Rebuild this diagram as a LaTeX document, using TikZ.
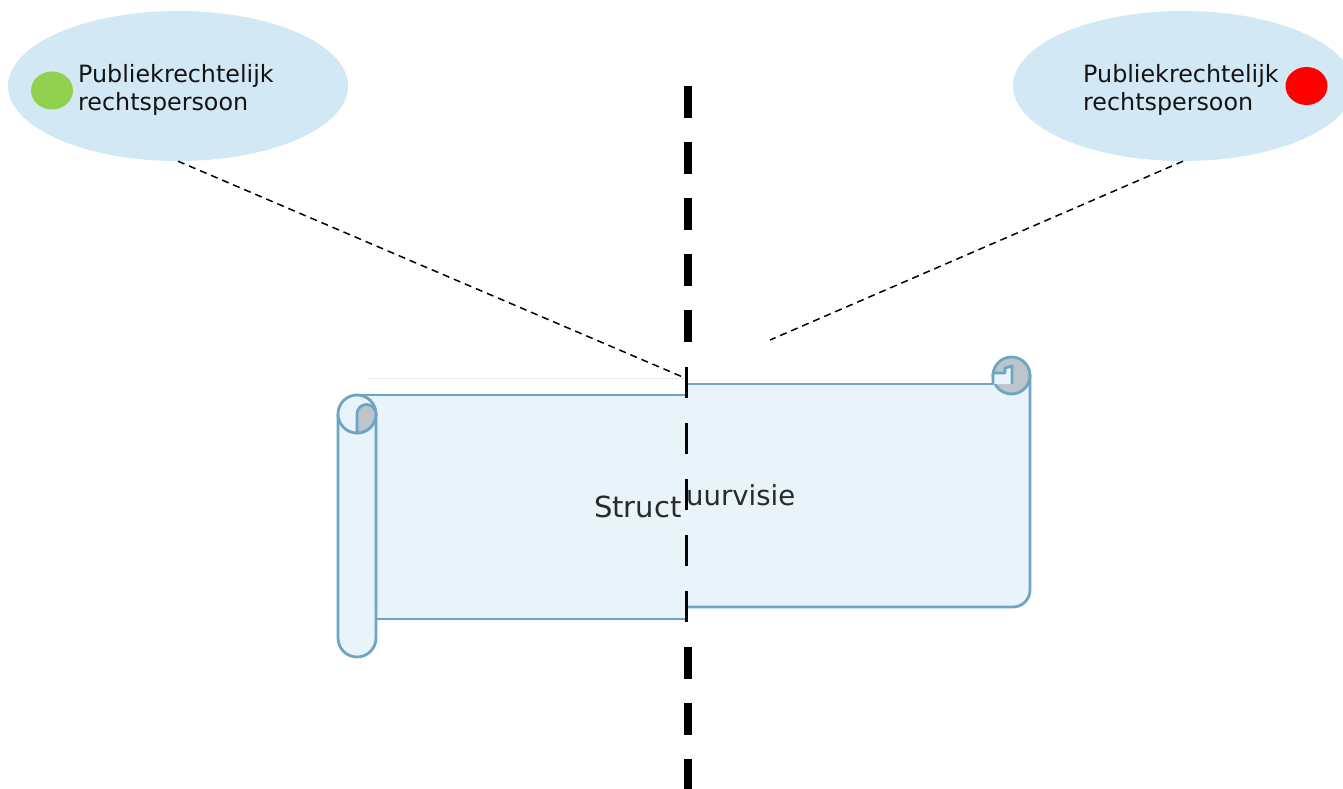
\documentclass[tikz,border=0pt]{standalone}
\usepackage{fontspec}
\setmainfont{DejaVu Sans}
\usetikzlibrary{shapes.geometric}
\definecolor{ellfill}{HTML}{D2E8F4}
\definecolor{scrollfill}{HTML}{E8F3FA}
\definecolor{scrolledge}{HTML}{6FA5C3}
\definecolor{curlgray}{HTML}{BCC5CC}
\definecolor{dotgreen}{HTML}{92D050}
\definecolor{faintline}{HTML}{E3EBF0}
\definecolor{scrolltext}{HTML}{2A2A2A}
\begin{document}
\begin{tikzpicture}[x=1pt,y=-1pt,
  bubble/.style={ellipse, fill=ellfill, minimum width=340pt, minimum height=150pt, inner sep=0pt},
  dot/.style={ellipse, minimum width=42pt, minimum height=38pt, inner sep=0pt},
  bubbletext/.style={align=left, anchor=north west, font=\fontsize{23.8}{28}\selectfont, inner sep=0pt, text=black!92},
  scrolltxt/.style={anchor=base west, inner sep=0pt, text=scrolltext},
  link/.style={draw=black, line width=1.5pt, dash pattern=on 7pt off 5pt},
  scrollline/.style={draw=scrolledge, line width=2.8pt, line join=round},
  thickdiv/.style={draw=black, line width=8pt, dash pattern=on 32pt off 24pt},
  thindiv/.style={draw=black, line width=3pt, dash pattern=on 31pt off 25pt}]
\useasboundingbox (0,0) rectangle (1343,789);
\clip (0,0) rectangle (1343,789);

% bubbles
\node[bubble] (bl) at (178,86) {};
\node[bubble] (br) at (1183,86) {};
\node[dot, fill=dotgreen] (gdot) at (52,90.5) {};
\node[dot, fill=red] (rdot) at (1306.5,86) {};
\node[bubbletext] (tl) at (78,64) {Publiekrechtelijk\\rechtspersoon};
\node[bubbletext] (tr) at (1083,64) {Publiekrechtelijk\\rechtspersoon};

% connectors
\coordinate (cl) at (685,378);
\coordinate (cr) at (770,340);
\draw[link] (bl.south) -- (cl);
\draw[link] (br.south) -- (cr);

% faint line
\draw[faintline, line width=1pt] (368,378) -- (686,378);

% left half of scroll
\fill[scrollfill] (357,395) rectangle (686,619);
\draw[scrollline] (357,395) -- (686,395);
\draw[scrollline] (377,619) -- (686,619);
\path[scrollline, fill=scrollfill] (338,414) -- (338,638) arc[start angle=180, end angle=0, radius=19] -- (376,414);
\path[scrollline, fill=scrollfill] (357,414) circle[radius=19];
\path[scrollline, fill=curlgray] (357,414) arc[start angle=180, end angle=360, radius=9.5] arc[start angle=0, end angle=90, radius=19] -- cycle;

% right half of scroll
\fill[scrollfill] (686,384) -- (1030,384) -- (1030,590) arc[start angle=0, end angle=90, radius=17] -- (686,607) -- cycle;
\draw[scrollline] (686,384) -- (1012,384);
\path[scrollline, fill=curlgray] (1011.5,375.5) circle[radius=18.5];
\path[scrollline, fill=scrollfill] (993,384) -- (993,373) -- (1005,373) -- (1005,368) -- (1012,366) -- (1012,384);
\draw[scrollline] (1030,375) -- (1030,590) arc[start angle=0, end angle=90, radius=17] -- (686,607);

% scroll text
\node[scrolltxt, font=\fontsize{29}{34}\selectfont] (s1) at (594,517) {Struct};
\node[scrolltxt, font=\fontsize{27.5}{33}\selectfont] (s2) at (686,505) {uurvisie};

% divider
\coordinate (d1) at (688,86);
\coordinate (d2) at (688,342);
\coordinate (d3) at (686,367);
\coordinate (d4) at (686,623);
\coordinate (d5) at (688,647);
\coordinate (d6) at (688,789);
\draw[thickdiv] (d1) -- (d2);
\draw[thindiv] (d3) -- (d4);
\draw[thickdiv] (d5) -- (d6);
\end{tikzpicture}
\end{document}
